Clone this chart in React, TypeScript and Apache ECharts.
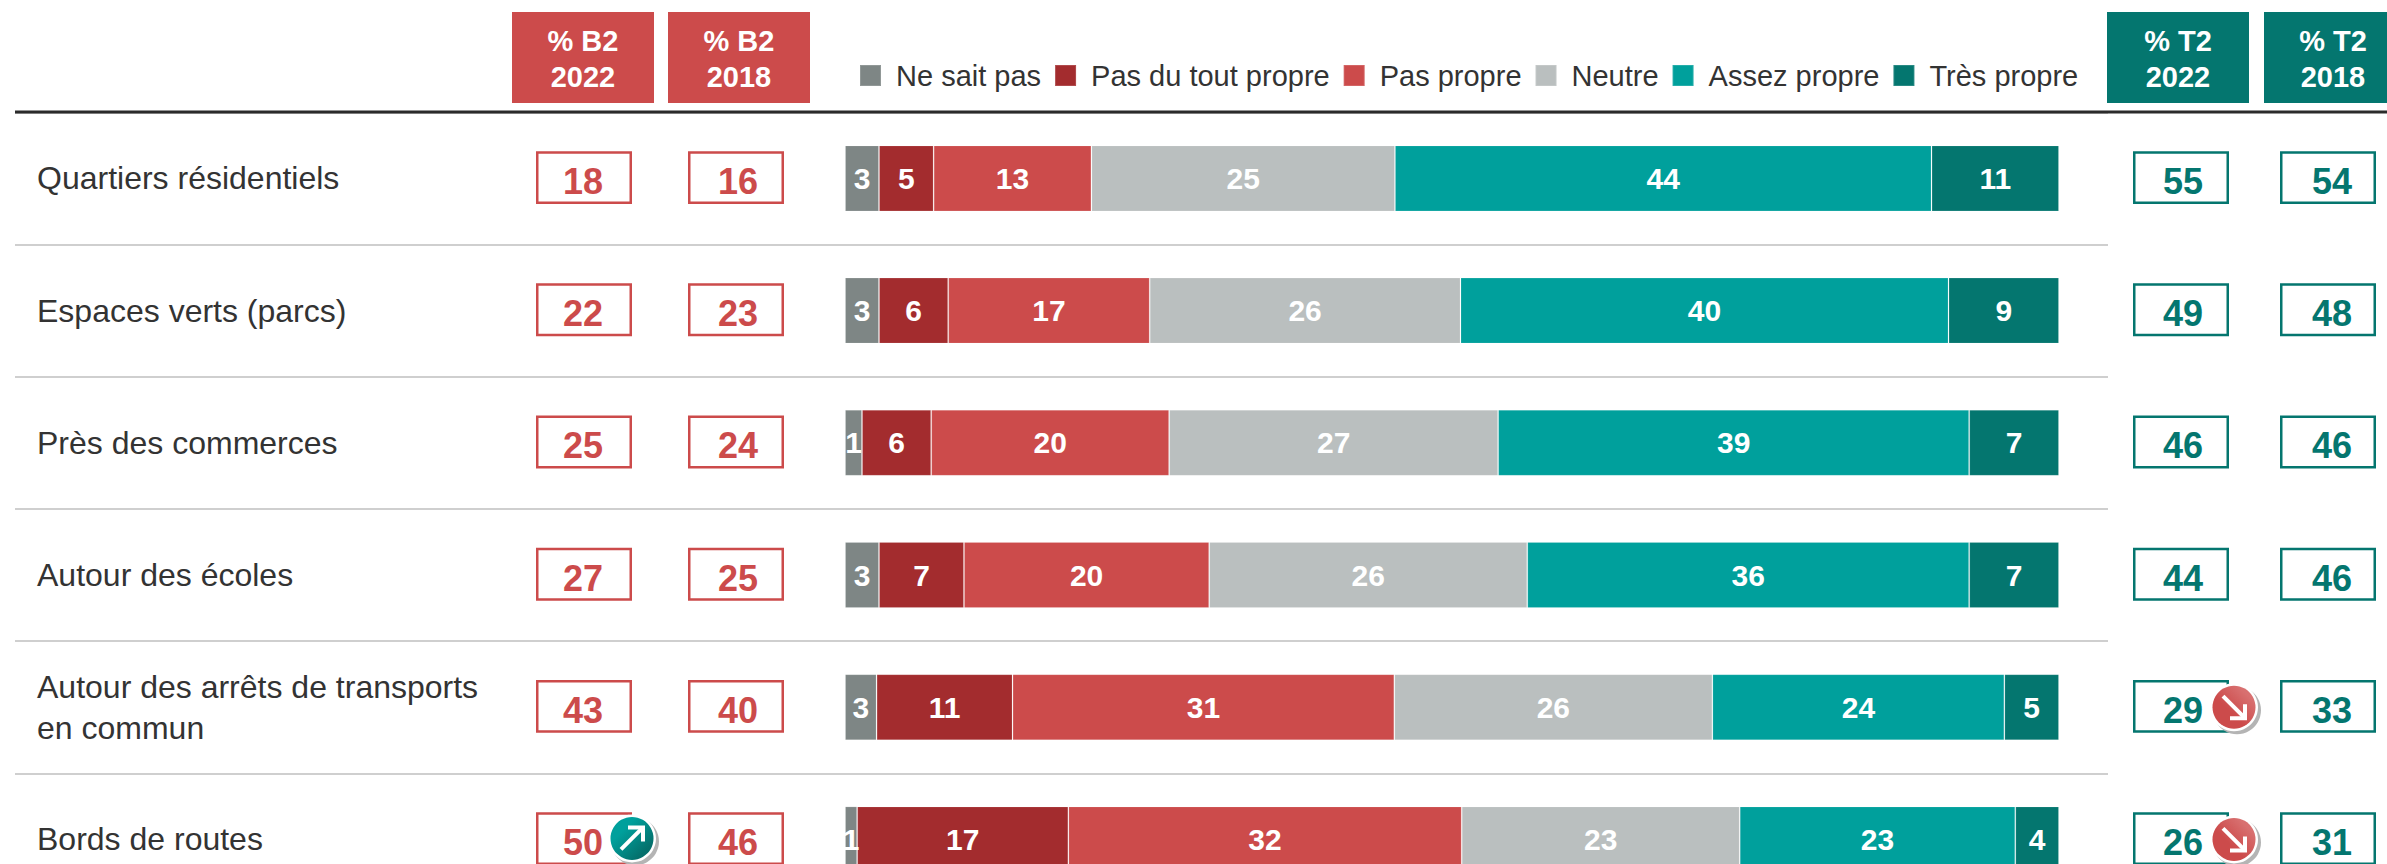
import React, { useEffect, useRef } from "react";
import * as echarts from "echarts";

const categories = [
  "Quartiers résidentiels",
  "Espaces verts (parcs)",
  "Près des commerces",
  "Autour des écoles",
  "Autour des arrêts de transports\nen commun",
  "Bords de routes",
];

const neSaitPas = [2.8, 2.8, 1.4, 2.8, 2.6, 1.0];
const pasDuToutPropre = [4.5, 5.7, 5.7, 7.0, 11.2, 17.4];
const pasPropre = [13.0, 16.6, 19.6, 20.2, 31.45, 32.4];
const neutre = [25.0, 25.6, 27.1, 26.2, 26.2, 22.9];
const assezPropre = [44.2, 40.2, 38.8, 36.4, 24.05, 22.7];
const tresPropre = [10.5, 9.1, 7.4, 7.4, 4.5, 3.6];

const b2_2022 = [18, 22, 25, 27, 43, 50];
const b2_2018 = [16, 23, 24, 25, 40, 46];
const t2_2022 = [55, 49, 46, 44, 29, 26];
const t2_2018 = [54, 48, 46, 46, 33, 31];

const trendB2_2022 = [0, 0, 0, 0, 0, 1];
const trendT2_2022 = [0, 0, 0, 0, -1, -1];
const noTrend = [0, 0, 0, 0, 0, 0];

const FONT = '"Liberation Sans", Arial, sans-serif';
const RED = "#cc4b4b";
const TEAL = "#04766f";

const barSeries = [
  { name: "Ne sait pas", values: neSaitPas, color: "#7e8685" },
  { name: "Pas du tout propre", values: pasDuToutPropre, color: "#a32c2e" },
  { name: "Pas propre", values: pasPropre, color: RED },
  { name: "Neutre", values: neutre, color: "#babfbf" },
  { name: "Assez propre", values: assezPropre, color: "#00a09c" },
  { name: "Très propre", values: tresPropre, color: TEAL },
];

const columns = [
  { values: b2_2022, trend: trendB2_2022, color: RED, x0: 536, x1: 632, tx: 583, bx: 632 },
  { values: b2_2018, trend: noTrend, color: RED, x0: 688, x1: 784, tx: 738, bx: 0 },
  { values: t2_2022, trend: trendT2_2022, color: TEAL, x0: 2133, x1: 2229, tx: 2183, bx: 2234 },
  { values: t2_2018, trend: noTrend, color: TEAL, x0: 2280, x1: 2376, tx: 2332, bx: 0 },
];

const headers = [
  { text: "% B2\n2022", x: 512, w: 142, color: RED },
  { text: "% B2\n2018", x: 668, w: 142, color: RED },
  { text: "% T2\n2022", x: 2107, w: 142, color: TEAL },
  { text: "% T2\n2018", x: 2264, w: 140, color: TEAL },
];

function badge(cx: number, cy: number, dir: number) {
  const s = dir > 0 ? -1 : 1; // vertical direction of the arrow
  const fill =
    dir > 0
      ? new echarts.graphic.LinearGradient(0, 0, 1, 1, [
          { offset: 0.3, color: "#00a09c" },
          { offset: 0.8, color: "#04706c" },
        ])
      : new echarts.graphic.LinearGradient(0, 1, 1, 0, [
          { offset: 0.4, color: "#cc4b4b" },
          { offset: 0.8, color: "#d87070" },
        ]);
  return [
    { type: "circle", shape: { cx: cx + 3, cy: cy + 3, r: 24 }, style: { fill: "#b4b4b4" } },
    { type: "circle", shape: { cx, cy, r: 24 }, style: { fill: "#ffffff" } },
    { type: "circle", shape: { cx, cy, r: 21.5 }, style: { fill } },
    {
      type: "line",
      shape: { x1: cx - 11, y1: cy - s * 11, x2: cx + 11, y2: cy + s * 11 },
      style: { stroke: "#fff", lineWidth: 4, fill: "none" },
    },
    {
      type: "polyline",
      shape: {
        points: [
          [cx + 11, cy + s * -3],
          [cx + 11, cy + s * 11],
          [cx - 4, cy + s * 11],
        ],
      },
      style: { stroke: "#fff", lineWidth: 4, fill: "none" },
    },
  ];
}

export default function App() {
  const ref = useRef<HTMLDivElement>(null);
  useEffect(() => {
    document.body.style.margin = "0";
    const chart = echarts.init(ref.current!, undefined, { renderer: "svg" });
    const series: any[] = barSeries.map((s) => ({
      name: s.name,
      type: "bar",
      stack: "total",
      xAxisIndex: 0,
      yAxisIndex: 0,
      barWidth: 66,
      data: s.values,
      itemStyle: { color: s.color, borderColor: "rgba(255,255,255,0.15)", borderWidth: 1 },
      label: {
        show: true,
        position: "inside",
        color: "#fff",
        fontFamily: FONT,
        fontWeight: "bold",
        fontSize: 30,
        formatter: (p: any) => String(Math.round(p.value)),
      },
    }));
    columns.forEach((col) => {
      series.push({
        type: "custom",
        xAxisIndex: 1,
        yAxisIndex: 1,
        clip: false,
        z: 5,
        silent: true,
        encode: { x: 0, y: 1 },
        data: col.values.map((v, i) => [v, i]),
        renderItem: (params: any, api: any) => {
          const i = params.dataIndex;
          const cy = api.coord([0, i])[1];
          const children: any[] = [
            {
              type: "rect",
              shape: { x: col.x0 + 1.25, y: cy - 26, width: col.x1 - col.x0 - 2.5, height: 50.4 },
              style: { fill: "#fff", stroke: col.color, lineWidth: 2.5 },
            },
            {
              type: "text",
              style: {
                x: col.tx,
                y: cy + 3,
                text: String(api.value(0)),
                fill: col.color,
                font: `bold 36px ${FONT}`,
                align: "center",
                verticalAlign: "middle",
              },
            },
          ];
          if (col.trend[i]) children.push(...badge(col.bx, cy - (col.tx === 583 ? 1 : 0), col.trend[i]));
          return { type: "group", children };
        },
      });
    });

    const graphic: any[] = [
      {
        type: "line",
        z: 4,
        shape: { x1: 15, y1: 112, x2: 2387, y2: 112 },
        style: { stroke: "#2b2b2b", lineWidth: 3 },
      },
    ];
    headers.forEach((h) => {
      graphic.push({
        type: "rect",
        shape: { x: h.x, y: 12, width: h.w, height: 91 },
        style: { fill: h.color },
      });
      graphic.push({
        type: "text",
        style: {
          x: h.x + h.w / 2 + (h.x === 2264 ? -1 : 0),
          y: 58.5,
          text: h.text,
          fill: "#fff",
          font: `bold 29px ${FONT}`,
          lineHeight: 36,
          align: "center",
          verticalAlign: "middle",
        },
      });
    });

    chart.setOption({
      animation: false,
      backgroundColor: "#fff",
      textStyle: { fontFamily: FONT },
      legend: {
        left: 859,
        top: 61,
        padding: 0,
        itemWidth: 21,
        itemHeight: 21,
        itemGap: 13,
        icon: "rect",
        selectedMode: false,
        data: barSeries.map((s) => s.name),
        textStyle: { fontFamily: FONT, fontSize: 29, color: "#333", padding: [0, 0, 0, 10] },
      },
      grid: [
        { left: 845, width: 1214, top: 112.3, height: 793.2, outerBoundsMode: "none" },
        { left: 15, width: 2093, top: 112.3, height: 793.2, outerBoundsMode: "none" },
      ],
      xAxis: [
        { type: "value", gridIndex: 0, min: 0, max: 100, show: false },
        { type: "value", gridIndex: 1, min: 0, max: 100, show: false },
      ],
      yAxis: [
        {
          type: "category",
          gridIndex: 0,
          inverse: true,
          data: categories,
          axisLine: { show: false },
          axisTick: { show: false },
          axisLabel: {
            align: "left",
            margin: 808,
            interval: 0,
            color: "#333",
            fontFamily: FONT,
            fontSize: 32,
            lineHeight: 41,
          },
        },
        {
          type: "category",
          gridIndex: 1,
          inverse: true,
          data: categories,
          axisLine: { show: false },
          axisTick: { show: false },
          axisLabel: { show: false },
          splitLine: { show: true, interval: 0, lineStyle: { color: "#cfcfcf", width: 2 } },
        },
      ],
      series,
      graphic,
    });
    return () => chart.dispose();
  }, []);
  return <div ref={ref} style={{ width: 2387, height: 864, position: "absolute", left: 0, top: 0 }} />;
}
